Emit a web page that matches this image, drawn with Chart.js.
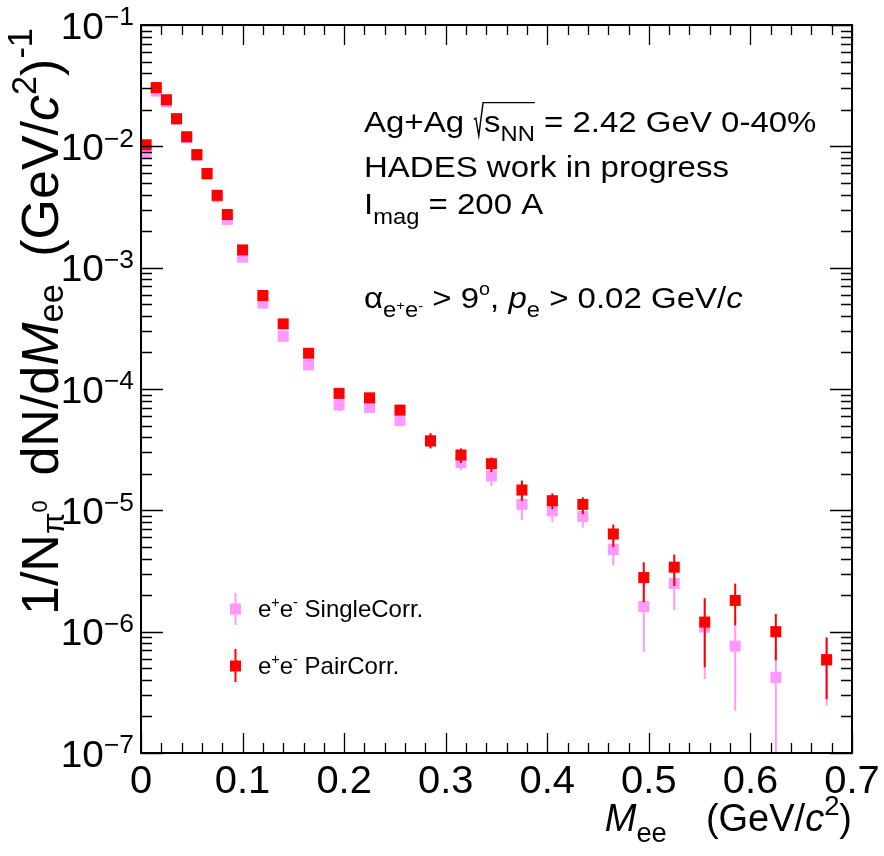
<!DOCTYPE html>
<html><head><meta charset="utf-8">
<script src="https://cdn.jsdelivr.net/npm/chart.js@4.4.1/dist/chart.umd.min.js"></script>
<style>html,body{margin:0;padding:0;background:#fff}#wrap{width:884px;height:856px}</style>
</head><body><div id="wrap"><canvas id="c" width="884" height="856"></canvas></div>
<script>
// ---------------- data ----------------
const massBins = [0.005,0.015,0.025,0.035,0.045,0.055,0.065,0.075,0.085,0.100,0.120,0.140,0.165,0.195,0.225,0.255,0.285,0.315,0.345,0.375,0.405,0.435,0.465,0.495,0.525,0.555,0.585,0.625,0.675];

const pairCorr = [1.03e-2,3.05e-2,2.42e-2,1.69e-2,1.20e-2,8.55e-3,5.97e-3,3.95e-3,2.74e-3,1.40e-3,5.90e-4,3.44e-4,1.97e-4,9.20e-5,8.45e-5,6.70e-5,3.74e-5,2.86e-5,2.42e-5,1.47e-5,1.20e-5,1.12e-5,6.38e-6,2.79e-6,3.40e-6,1.20e-6,1.81e-6,1.00e-6,5.88e-7];
const pairLow  = [1.00e-2,2.97e-2,2.36e-2,1.65e-2,1.17e-2,8.33e-3,5.81e-3,3.84e-3,2.66e-3,1.36e-3,5.70e-4,3.32e-4,1.90e-4,8.70e-5,8.05e-5,6.35e-5,3.25e-5,2.46e-5,2.07e-5,1.20e-5,1.02e-5,9.30e-6,4.99e-6,1.75e-6,2.38e-6,5.10e-7,1.13e-6,5.80e-7,2.78e-7];
const pairHigh = [1.06e-2,3.13e-2,2.48e-2,1.73e-2,1.23e-2,8.77e-3,6.13e-3,4.06e-3,2.82e-3,1.44e-3,6.10e-4,3.56e-4,2.04e-4,9.70e-5,8.85e-5,7.05e-5,4.33e-5,3.24e-5,2.73e-5,1.76e-5,1.38e-5,1.28e-5,7.64e-6,3.73e-6,4.32e-6,1.89e-6,2.49e-6,1.40e-6,8.97e-7];

const singleCorr = [8.80e-3,2.85e-2,2.33e-2,1.67e-2,1.18e-2,8.40e-3,5.85e-3,3.85e-3,2.50e-3,1.22e-3,5.10e-4,2.72e-4,1.58e-4,7.40e-5,7.05e-5,5.50e-5,3.70e-5,2.48e-5,1.92e-5,1.12e-5,9.90e-6,8.90e-6,4.75e-6,1.61e-6,2.50e-6,1.09e-6,7.60e-7,4.20e-7,5.80e-7];
const singleLow  = [8.55e-3,2.77e-2,2.27e-2,1.63e-2,1.15e-2,8.17e-3,5.68e-3,3.74e-3,2.42e-3,1.17e-3,4.85e-4,2.55e-4,1.48e-4,6.55e-5,6.40e-5,5.00e-5,3.20e-5,2.14e-5,1.58e-5,8.28e-6,8.00e-6,7.20e-6,3.52e-6,6.80e-7,1.50e-6,4.07e-7,2.24e-7,5.00e-8,2.46e-7];
const singleHigh = [9.05e-3,2.93e-2,2.39e-2,1.71e-2,1.21e-2,8.63e-3,6.02e-3,3.96e-3,2.58e-3,1.27e-3,5.35e-4,2.89e-4,1.68e-4,8.20e-5,7.70e-5,6.00e-5,4.25e-5,2.85e-5,2.30e-5,1.45e-5,1.20e-5,1.10e-5,6.00e-6,2.60e-6,3.40e-6,1.80e-6,1.30e-6,7.50e-7,8.70e-7];

const xTickValues = [0,0.1,0.2,0.3,0.4,0.5,0.6,0.7];
const xTickLabels = ['0','0.1','0.2','0.3','0.4','0.5','0.6','0.7'];
const yTickExponents = [-7,-6,-5,-4,-3,-2,-1];
const seriesNames = ['SingleCorr.','PairCorr.'];

// ---------------- styling ----------------
const PINK = '#ff99ff';
const RED = '#ff0000';
const FONT = '"Liberation Sans", Arial, Helvetica, sans-serif';

function segFont(F, s, it){ return (it?'italic ':'') + (F*(s||1)).toFixed(2) + 'px ' + FONT; }
function richWidth(ctx, segs, F){
  let w = 0;
  for (const g of segs){
    if (g.rad){ w += (g.w||0.35)*F; continue; }
    ctx.font = segFont(F, g.s, g.it);
    w += (g.dx||0)*F + ctx.measureText(g.t).width;
  }
  return w;
}
function drawRich(ctx, segs, x, y, F, rot, sx){
  sx = sx || 1;
  ctx.save();
  ctx.translate(x, y);
  ctx.scale(sx, 1);
  if (rot) ctx.rotate(-Math.PI/2);
  ctx.textBaseline = 'alphabetic';
  ctx.textAlign = 'left';
  ctx.fillStyle = '#000';
  let cx = 0;
  for (let i=0;i<segs.length;i++){
    const g = segs[i];
    if (g.rad){
      const ov = richWidth(ctx, segs.slice(i+1, i+1+g.over), F);
      const w = (g.w||0.35)*F;
      ctx.beginPath();
      ctx.lineWidth = 1.3;
      ctx.strokeStyle = '#000';
      ctx.moveTo(cx+0.02*F, -0.42*F);
      ctx.lineTo(cx+0.08*F, -0.46*F);
      ctx.lineTo(cx+0.17*F, 0.12*F);
      ctx.lineTo(cx+0.30*F, -0.98*F);
      ctx.lineTo(cx+w+ov, -0.98*F);
      ctx.stroke();
      cx += w;
      continue;
    }
    ctx.font = segFont(F, g.s, g.it);
    cx += (g.dx||0)*F;
    ctx.fillText(g.t, cx, -(g.dy||0)*F);
    cx += ctx.measureText(g.t).width;
  }
  ctx.restore();
}

// error bars drawn through the scales, beneath each dataset's markers
const errorBarPlugin = {
  id:'errorBars',
  beforeDatasetDraw(chart, args){
    const ds = chart.data.datasets[args.index];
    const xs = chart.scales.x, ys = chart.scales.y, a = chart.chartArea;
    const ctx = chart.ctx;
    ctx.save();
    ctx.beginPath(); ctx.rect(a.left, a.top, a.right-a.left, a.bottom-a.top); ctx.clip();
    ctx.strokeStyle = ds.borderColor; ctx.lineWidth = 2;
    ds.data.forEach((p,i)=>{
      const px = xs.getPixelForValue(p.x);
      const y1 = ys.getPixelForValue(ds.errLow[i]);
      const y2 = ys.getPixelForValue(ds.errHigh[i]);
      ctx.beginPath(); ctx.moveTo(px, y1); ctx.lineTo(px, y2); ctx.stroke();
    });
    ctx.restore();
  }
};

// ROOT-like frame, inner ticks, tick labels, titles, text block, legend
const decorPlugin = {
  id:'decor',
  afterDraw(chart){
    const ctx = chart.ctx, a = chart.chartArea, xs = chart.scales.x, ys = chart.scales.y;
    ctx.save();
    ctx.strokeStyle = '#000';
    ctx.lineWidth = 1.3;
    ctx.beginPath();
    for (let k=0;k<=35;k++){
      const v = k*0.02; if (v > 0.7001) break;
      const px = Math.round(xs.getPixelForValue(v))+0.5;
      const L = (k%5===0) ? 20 : 10;
      ctx.moveTo(px, a.bottom); ctx.lineTo(px, a.bottom-L);
      ctx.moveTo(px, a.top); ctx.lineTo(px, a.top+L);
    }
    for (let e=-7;e<=-1;e++){
      for (let m=1;m<=9;m++){
        const v = m*Math.pow(10,e);
        if (v > 0.1000001) break;
        const py = Math.round(ys.getPixelForValue(v))+0.5;
        const L = (m===1) ? 22 : 11;
        ctx.moveTo(a.left, py); ctx.lineTo(a.left+L, py);
        ctx.moveTo(a.right, py); ctx.lineTo(a.right-L, py);
      }
    }
    ctx.stroke();
    ctx.lineWidth = 2;
    ctx.strokeRect(a.left, a.top, a.right-a.left, a.bottom-a.top);

    // x tick labels
    ctx.fillStyle = '#000';
    const TF = 38, TSX = 1.05;
    xTickValues.forEach((v,i)=>{
      const px = xs.getPixelForValue(v);
      const w = richWidth(ctx, [{t:xTickLabels[i]}], TF)*TSX;
      drawRich(ctx, [{t:xTickLabels[i]}], px - w/2, a.bottom+40, TF, false, TSX);
    });
    // y tick labels 10^n
    yTickExponents.forEach(e=>{
      const py = ys.getPixelForValue(Math.pow(10,e));
      const segs = [{t:'10'},{t:'\u2212'+Math.abs(e), s:0.68, dy:0.36}];
      const w = richWidth(ctx, segs, 37)*TSX;
      drawRich(ctx, segs, 134 - w, py+13.5, 37, false, TSX);
    });

    // axis titles
    const xt = [{t:'M',it:true},{t:'ee',s:0.72,dy:-0.3},{t:' (GeV/',dx:0.75},{t:'c',it:true},{t:'2',s:0.72,dy:0.42},{t:')'}];
    const XF = 38;
    const xw = richWidth(ctx, xt, XF);
    drawRich(ctx, xt, 852 - xw, 831, XF);

    const yt = [{t:'1/N'},{t:'\u03c0',s:0.6,dy:-0.12},{t:'0',s:0.42,dy:0.22},{t:' dN/d',dx:0.2},{t:'M',it:true},{t:'ee',s:0.66,dy:-0.1},{t:' (GeV/',dx:0.25},{t:'c',it:true},{t:'2',s:0.66,dy:0.42},{t:')'},{t:'-1',s:0.66,dy:0.5}];
    drawRich(ctx, yt, 58, 615, 52, true);

    // text block
    const BF = 30, BSX = 1.1;
    drawRich(ctx, [{t:'Ag+Ag '},{rad:true,w:0.33,over:2},{t:'s'},{t:'NN',s:0.72,dy:-0.3},{t:' = 2.42 GeV 0-40%'}], 364, 132, BF, false, BSX);
    drawRich(ctx, [{t:'HADES work in progress'}], 364, 177, BF, false, BSX);
    drawRich(ctx, [{t:'I'},{t:'mag',s:0.72,dy:-0.32},{t:' = 200 A'}], 364, 214, BF, false, BSX);
    drawRich(ctx, [{t:'\u03b1'},{t:'e',s:0.72,dy:-0.3},{t:'+',s:0.45,dy:-0.05},{t:'e',s:0.72,dy:-0.3},{t:'-',s:0.45,dy:-0.05},{t:' > 9'},{t:'o',s:0.6,dy:0.45},{t:', '},{t:'p',it:true},{t:'e',s:0.72,dy:-0.3},{t:' > 0.02 GeV/'},{t:'c',it:true}], 364, 308, BF, false, BSX);

    // legend
    const LF = 24;
    const leg = [
      {c:PINK, y:609, name:seriesNames[0], bar:[593,625]},
      {c:RED,  y:666, name:seriesNames[1], bar:[649,682]}
    ];
    leg.forEach(L=>{
      ctx.strokeStyle = L.c; ctx.lineWidth = 2;
      ctx.beginPath(); ctx.moveTo(235.5, L.bar[0]); ctx.lineTo(235.5, L.bar[1]); ctx.stroke();
      ctx.fillStyle = L.c; ctx.fillRect(230, L.y-5.5, 11, 11);
      drawRich(ctx, [{t:'e'},{t:'+',s:0.6,dy:0.4},{t:'e'},{t:'-',s:0.6,dy:0.4},{t:' '+L.name}], 258, L.y+8, LF);
    });
    ctx.restore();
  }
};

new Chart(document.getElementById('c'), {
  type:'scatter',
  data:{datasets:[
    {label:'e+e- '+seriesNames[0], data:massBins.map((m,i)=>({x:m,y:singleCorr[i]})), errLow:singleLow, errHigh:singleHigh, order:1,
     backgroundColor:PINK, borderColor:PINK, pointStyle:'rect', pointRadius:7.8, borderWidth:0, pointHoverRadius:7.8},
    {label:'e+e- '+seriesNames[1], data:massBins.map((m,i)=>({x:m,y:pairCorr[i]})), errLow:pairLow, errHigh:pairHigh, order:0,
     backgroundColor:RED, borderColor:RED, pointStyle:'rect', pointRadius:7.8, borderWidth:0, pointHoverRadius:7.8}
  ]},
  options:{
    responsive:false, animation:false, devicePixelRatio:1,
    layout:{padding:{left:141, right:32, top:25, bottom:103}},
    scales:{
      x:{type:'linear', min:0, max:0.7, display:false},
      y:{type:'logarithmic', min:1e-7, max:1e-1, display:false}
    },
    plugins:{legend:{display:false}, tooltip:{enabled:false}}
  },
  plugins:[errorBarPlugin, decorPlugin]
});
</script></body></html>
